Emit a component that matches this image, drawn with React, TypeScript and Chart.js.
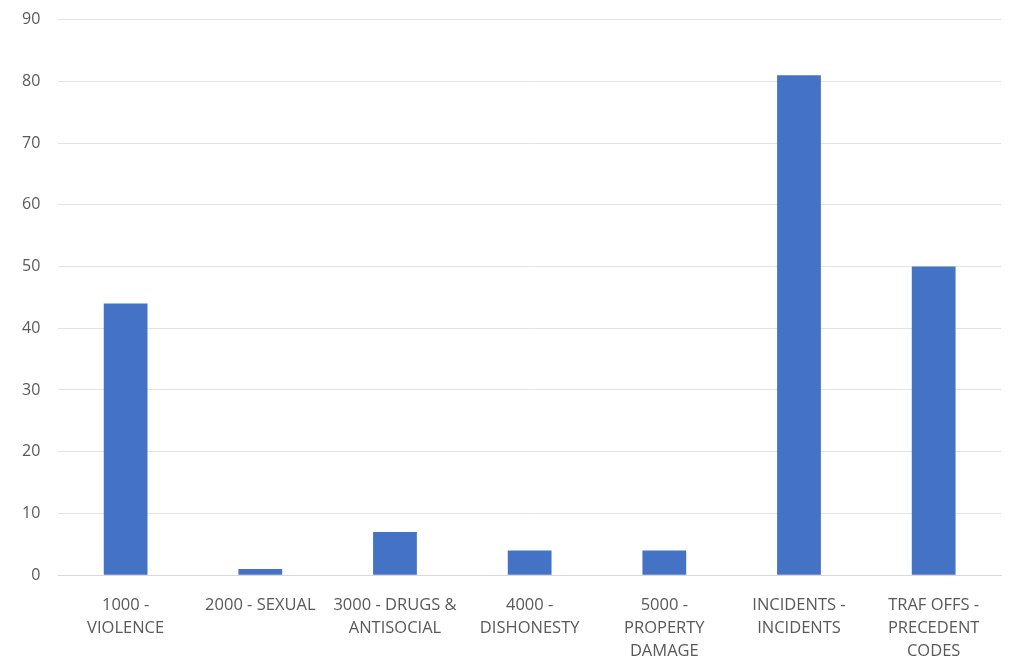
import React, { useEffect, useRef } from "react";
import { Chart, registerables } from "chart.js";

Chart.register(...registerables);

const categories: string[][] = [
  ["1000 -", "VIOLENCE"],
  ["2000 - SEXUAL"],
  ["3000 - DRUGS &", "ANTISOCIAL"],
  ["4000 -", "DISHONESTY"],
  ["5000 -", "PROPERTY", "DAMAGE"],
  ["INCIDENTS -", "INCIDENTS"],
  ["TRAF OFFS -", "PRECEDENT", "CODES"],
];
const counts: number[] = [44, 1, 7, 4, 4, 81, 50];
const yMin = 0;
const yMax = 90;
const yStep = 10;

export default function App() {
  const ref = useRef<HTMLCanvasElement | null>(null);
  useEffect(() => {
    if (!ref.current) return;
    const chart = new Chart(ref.current, {
      type: "bar",
      data: {
        labels: categories,
        datasets: [
          {
            data: counts,
            backgroundColor: "#4472C4",
            barPercentage: 0.65,
            categoryPercentage: 0.5,
          },
        ],
      },
      options: {
        animation: false,
        responsive: true,
        maintainAspectRatio: false,
        layout: { padding: { top: 2, right: 10, left: 4, bottom: 0 } },
        plugins: { legend: { display: false }, tooltip: { enabled: false } },
        scales: {
          x: {
            grid: { display: false, drawTicks: false },
            border: { display: true, color: "#d9d9d9", width: 1 },
            ticks: {
              color: "#595959",
              font: { family: "'Open Sans', sans-serif", size: 16.5, lineHeight: 1.39 },
              maxRotation: 0,
              autoSkip: false,
              padding: 19,
            },
          },
          y: {
            min: yMin,
            max: yMax,
            grid: { color: "#e3e3e3", drawTicks: false },
            border: { display: false },
            ticks: {
              stepSize: yStep,
              color: "#595959",
              font: { family: "'Open Sans', sans-serif", size: 16 },
              padding: 18,
            },
          },
        },
      },
    });
    return () => chart.destroy();
  }, []);
  return (
    <div style={{ position: "fixed", left: 0, top: -8, width: 1011, height: 690, background: "#fff" }}>
      <canvas ref={ref} />
    </div>
  );
}
